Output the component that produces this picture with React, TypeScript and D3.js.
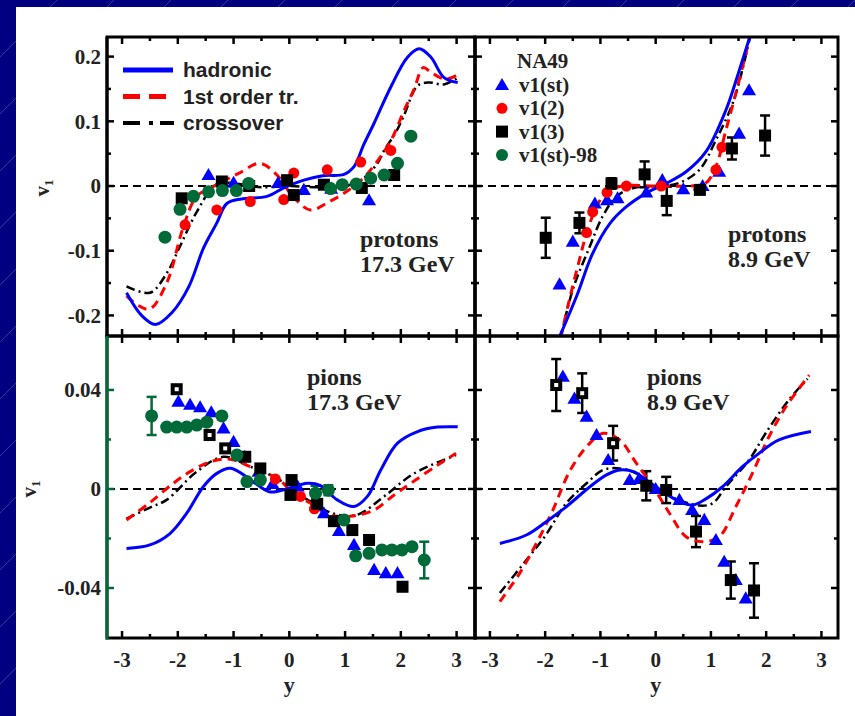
import React from 'react';
import * as d3 from 'd3';

type P = [number, number];
type E = [number, number, number];

// ---- protons 17.3 GeV ----
const p173Had: P[] = [[-2.92,-0.165],[-2.65,-0.2],[-2.4,-0.214],[-2.1,-0.195],[-1.8,-0.155],[-1.54,-0.096],[-1.3,-0.057],[-1.12,-0.027],[-0.86,-0.02],[-0.4,-0.016],[-0.1,-0.003],[0.26,0.009],[0.6,0.016],[0.98,0.018],[1.16,0.03],[1.34,0.065],[1.52,0.097],[1.82,0.153],[2.12,0.199],[2.33,0.212],[2.54,0.199],[2.77,0.168],[3.02,0.16]];
const p173First: P[] = [[-2.92,-0.17],[-2.7,-0.185],[-2.5,-0.19],[-2.2,-0.15],[-1.9,-0.063],[-1.66,-0.016],[-1.3,0.002],[-0.9,0.02],[-0.52,0.035],[-0.2,0.015],[0.05,-0.015],[0.38,-0.037],[0.7,-0.025],[1.0,-0.01],[1.3,0.01],[1.55,0.035],[1.82,0.07],[2.06,0.117],[2.24,0.15],[2.4,0.183],[2.55,0.175],[2.8,0.165],[3.02,0.172]];
const p173Cross: P[] = [[-2.92,-0.155],[-2.5,-0.165],[-2.2,-0.135],[-1.96,-0.093],[-1.66,-0.04],[-1.3,0.003],[-0.9,0.003],[-0.5,-0.002],[0,0],[0.5,-0.002],[1.0,0.0],[1.3,0.01],[1.58,0.035],[1.7,0.055],[1.91,0.083],[2.06,0.11],[2.3,0.155],[2.5,0.16],[2.77,0.157],[3.02,0.167]];
const p173St: P[] = [[-1.45,0.017],[-1.0,0.005],[-0.2,0.005],[0.26,-0.006],[0.75,-0.004],[1.43,-0.022]];
const p173V2: P[] = [[-1.87,-0.06],[-1.3,-0.037],[-0.7,-0.024],[-0.1,-0.021],[0.08,0.02],[0.68,0.025],[1.28,0.037],[1.82,0.055]];
const p173V3: E[] = [[-1.93,-0.019,0],[-1.21,0.007,0],[-0.72,0.0,0],[-0.04,0.009,0],[0.08,-0.014,0],[0.62,0.002,0],[1.3,-0.003,0],[1.88,0.017,0]];
const p17398: E[] = [[-2.23,-0.079,0],[-1.96,-0.036,0],[-1.72,-0.016,0],[-1.45,-0.009,0],[-1.2,-0.007,0],[-0.95,-0.007,0],[-0.73,0.004,0],[0.74,-0.004,0],[0.95,0.002,0],[1.2,0.003,0],[1.46,0.012,0],[1.7,0.017,0],[1.94,0.035,0],[2.18,0.077,0]];

// ---- protons 8.9 GeV ----
const p89Had: P[] = [[-1.75,-0.235],[-1.43,-0.17],[-1.14,-0.104],[-0.83,-0.058],[-0.53,-0.032],[-0.17,-0.011],[0.19,0.004],[0.55,0.022],[0.91,0.053],[1.27,0.117],[1.51,0.178],[1.72,0.235]];
const p89First: P[] = [[-1.72,-0.235],[-1.56,-0.175],[-1.38,-0.114],[-1.25,-0.073],[-1.07,-0.032],[-0.89,-0.009],[-0.6,0.0],[0,0],[0.6,0.0],[0.9,0.004],[1.09,0.03],[1.27,0.086],[1.45,0.143],[1.63,0.204],[1.72,0.235]];
const p89Cross: P[] = [[-1.72,-0.235],[-1.5,-0.16],[-1.2,-0.095],[-0.96,-0.047],[-0.71,-0.016],[-0.4,-0.003],[0,0],[0.4,0.004],[0.79,0.025],[1.09,0.071],[1.39,0.127],[1.57,0.18],[1.72,0.235]];
const p89St: P[] = [[-1.74,-0.152],[-1.5,-0.086],[-1.1,-0.027],[-0.88,-0.022],[-0.69,-0.019],[-0.17,-0.01],[0.12,0.009],[0.5,-0.005],[0.85,0.0],[1.15,0.022],[1.51,0.081],[1.69,0.148]];
const p89V2: P[] = [[-1.25,-0.072],[-1.14,-0.04],[-0.88,-0.01],[-0.53,0.0],[0.1,0.0],[0.78,-0.005],[1.09,0.025],[1.2,0.06]];
const p89V3: E[] = [[-1.99,-0.08,0.031],[-1.38,-0.057,0.016],[-0.8,0.004,0.008],[-0.2,0.018,0.02],[0.2,-0.023,0.022],[0.8,-0.006,0.006],[1.38,0.058,0.017],[1.98,0.078,0.031]];

// ---- pions 17.3 GeV ----
const pi173Had: P[] = [[-2.92,-0.024],[-2.5,-0.0226],[-2.14,-0.018],[-1.84,-0.0098],[-1.54,0.001],[-1.3,0.0063],[-1.06,0.0084],[-0.82,0.0057],[-0.55,0.0013],[-0.34,-0.0012],[-0.05,0.0],[0.32,0.0023],[0.55,0.0015],[0.86,-0.0044],[1.16,-0.0071],[1.4,-0.003],[1.64,0.0077],[1.94,0.0185],[2.3,0.0232],[2.66,0.025],[3.02,0.0251]];
const pi173First: P[] = [[-2.92,-0.0125],[-2.5,-0.0055],[-2.08,0.0023],[-1.78,0.007],[-1.42,0.011],[-1.06,0.012],[-0.7,0.009],[-0.2,0.004],[0.02,-0.0005],[0.38,-0.0058],[0.74,-0.0105],[1.1,-0.011],[1.52,-0.0085],[1.88,-0.0024],[2.18,0.0023],[2.66,0.0097],[2.99,0.0144]];
const pi173Cross: P[] = [[-2.92,-0.012],[-2.5,-0.0075],[-2.2,-0.0044],[-1.66,0.007],[-1.18,0.013],[-0.7,0.009],[-0.2,0.004],[0.3,-0.004],[0.8,-0.01],[1.22,-0.0104],[1.7,-0.003],[2.24,0.0063],[2.99,0.0137]];
const pi173St: P[] = [[-1.99,0.0353],[-1.78,0.034],[-1.6,0.033],[-1.4,0.031],[-1.18,0.0245],[-1.0,0.019],[-0.8,0.013],[-0.55,0.007],[-0.3,0.002],[0.15,0.001],[0.5,-0.007],[0.62,-0.0098],[0.89,-0.017],[1.16,-0.0226],[1.52,-0.0327],[1.73,-0.034],[1.94,-0.034]];
const pi173V2: P[] = [[-0.25,0.004],[0.2,-0.003],[0.45,-0.008]];
const pi173V3: E[] = [[-0.79,0.013,0],[-0.52,0.0083,0],[0.04,0.0036,0],[0.02,-0.0024,0],[0.5,-0.006,0],[0.8,-0.013,0],[1.13,-0.0166,0],[1.43,-0.0206,0],[2.03,-0.0395,0]];
const pi173V3Open: E[] = [[-2.02,0.0403,0],[-1.43,0.0218,0],[-1.15,0.0164,0]];
const pi17398: E[] = [[-2.47,0.0295,0.0077],[-2.2,0.025,0],[-2.02,0.025,0],[-1.84,0.025,0],[-1.66,0.0258,0],[-1.48,0.027,0],[-1.21,0.0295,0],[-0.94,0.0137,0],[-0.76,0.003,0],[-0.52,0.0036,0],[0.47,-0.0017,0.003],[0.7,-0.0005,0.002],[0.98,-0.0125,0],[1.19,-0.027,0],[1.43,-0.026,0],[1.66,-0.0246,0],[1.84,-0.0246,0],[2.02,-0.0246,0],[2.2,-0.0233,0],[2.42,-0.0287,0.0074]];

// ---- pions 8.9 GeV ----
const pi89Had: P[] = [[-2.82,-0.022],[-2.34,-0.0186],[-1.98,-0.0132],[-1.62,-0.0072],[-1.19,0.0009],[-0.89,0.0057],[-0.65,0.0077],[-0.4,0.007],[-0.17,0.0036],[0.13,-0.0011],[0.43,-0.0051],[0.67,-0.0065],[0.91,-0.004],[1.21,0.0009],[1.57,0.009],[1.87,0.0144],[2.23,0.0198],[2.81,0.0232]];
const pi89First: P[] = [[-2.82,-0.0455],[-2.46,-0.034],[-2.16,-0.022],[-1.86,-0.0085],[-1.56,0.007],[-1.25,0.0171],[-0.95,0.0225],[-0.65,0.0198],[-0.35,0.0104],[-0.05,0.001],[0.25,-0.0098],[0.55,-0.0193],[0.85,-0.0213],[1.15,-0.0193],[1.45,-0.0072],[1.75,0.0063],[2.05,0.0211],[2.36,0.0333],[2.78,0.046]];
const pi89Cross: P[] = [[-2.82,-0.042],[-2.34,-0.0287],[-2.0,-0.019],[-1.62,-0.0058],[-1.25,0.0023],[-0.95,0.0077],[-0.65,0.0083],[-0.35,0.0063],[-0.05,0.001],[0.37,-0.004],[0.79,-0.0067],[1.03,-0.0058],[1.27,0.0009],[1.69,0.0117],[1.99,0.0225],[2.41,0.036],[2.75,0.0445]];
const pi89St: P[] = [[-1.68,0.0454],[-1.47,0.0365],[-1.25,0.0292],[-1.07,0.0218],[-0.86,0.0117],[-0.47,0.0036],[-0.3,0.004],[0.0,0.0],[0.43,-0.0044],[0.66,-0.0085],[0.88,-0.0125],[1.09,-0.0206],[1.24,-0.0294],[1.45,-0.0368],[1.63,-0.0442]];
const pi89V3: E[] = [[-0.17,0.0013,0.0059],[0.19,-0.0004,0.0053],[0.73,-0.0172,0.0063],[1.36,-0.0368,0.0075],[1.78,-0.041,0.011]];
const pi89V3Open: E[] = [[-1.8,0.042,0.0105],[-1.33,0.0387,0.008],[-0.77,0.0185,0.007]];

// axis ticks / labels
const xMajor = [-3, -2, -1, 0, 1, 2, 3];
const xMinor = [-2.5, -1.5, -0.5, 0.5, 1.5, 2.5];
const protonMajor = [-0.2, -0.1, 0, 0.1, 0.2];
const protonMinor = [-0.15, -0.05, 0.05, 0.15];
const pionMajor = [-0.04, 0, 0.04];
const pionMinor = [-0.02, 0.02];
const modelNames = ['hadronic', '1st order tr.', 'crossover'];
const dataNames = ['v1(st)', 'v1(2)', 'v1(3)', 'v1(st)-98'];

const BLUE = '#0000ff';
const RED = '#ff0000';
const GREEN = '#006a38';
const SERIF = '"Liberation Serif", "DejaVu Serif", serif';
const SANS = '"Liberation Sans", Arial, sans-serif';

interface Panel {
  id: string;
  x0: number; x1: number; y0: number; y1: number;
  xDom: [number, number]; yDom: [number, number];
  yMajor: number[]; yMinor: number[];
  yLabels: boolean; xLabels: boolean;
  had: P[]; first: P[]; cross: P[];
  st: P[]; v2: P[]; v3: E[]; v3Open: E[]; s98: E[];
  label: string[]; lx: number; ly: number;
  vLabel?: [number, number];
}

const panels: Panel[] = [
  { id: 'a', x0: 107, x1: 475, y0: 37, y1: 336, xDom: [-3.27, 3.33], yDom: [-0.2318, 0.2303],
    yMajor: protonMajor, yMinor: protonMinor, yLabels: true, xLabels: false,
    had: p173Had, first: p173First, cross: p173Cross, st: p173St, v2: p173V2, v3: p173V3, v3Open: [], s98: p17398,
    label: ['protons', '17.3 GeV'], lx: 360, ly: 247, vLabel: [49, 188] },
  { id: 'b', x0: 475, x1: 838, y0: 37, y1: 336, xDom: [-3.27, 3.3], yDom: [-0.2318, 0.2303],
    yMajor: protonMajor, yMinor: protonMinor, yLabels: false, xLabels: false,
    had: p89Had, first: p89First, cross: p89Cross, st: p89St, v2: p89V2, v3: p89V3, v3Open: [], s98: [],
    label: ['protons', '8.9 GeV'], lx: 728, ly: 242 },
  { id: 'c', x0: 107, x1: 475, y0: 336, y1: 638, xDom: [-3.27, 3.33], yDom: [-0.0602, 0.0618],
    yMajor: pionMajor, yMinor: pionMinor, yLabels: true, xLabels: true,
    had: pi173Had, first: pi173First, cross: pi173Cross, st: pi173St, v2: pi173V2, v3: pi173V3, v3Open: pi173V3Open, s98: pi17398,
    label: ['pions', '17.3 GeV'], lx: 307, ly: 385, vLabel: [36, 489] },
  { id: 'd', x0: 475, x1: 838, y0: 336, y1: 638, xDom: [-3.27, 3.3], yDom: [-0.0602, 0.0618],
    yMajor: pionMajor, yMinor: pionMinor, yLabels: false, xLabels: true,
    had: pi89Had, first: pi89First, cross: pi89Cross, st: pi89St, v2: [], v3: pi89V3, v3Open: pi89V3Open, s98: [],
    label: ['pions', '8.9 GeV'], lx: 647, ly: 385 },
];

const triPath = d3.symbol().type(d3.symbolTriangle).size(85)() as string;
const fmt = (v: number) => (v === 0 ? '0' : String(v));

function PanelView({ p }: { p: Panel }) {
  const xs = d3.scaleLinear().domain(p.xDom).range([p.x0, p.x1]);
  const ys = d3.scaleLinear().domain(p.yDom).range([p.y1, p.y0]);
  const line = d3.line<P>().x(d => xs(d[0])).y(d => ys(d[1])).curve(d3.curveCatmullRom.alpha(0.5));
  const leftColor = p.id === 'c' ? GREEN : '#000';

  const errBar = (d: E, color: string, k: string) =>
    d[2] > 0 ? (
      <g key={k} stroke={color} strokeWidth={2.5}>
        <line x1={xs(d[0])} x2={xs(d[0])} y1={ys(d[1] - d[2])} y2={ys(d[1] + d[2])} />
        <line x1={xs(d[0]) - 5} x2={xs(d[0]) + 5} y1={ys(d[1] - d[2])} y2={ys(d[1] - d[2])} />
        <line x1={xs(d[0]) - 5} x2={xs(d[0]) + 5} y1={ys(d[1] + d[2])} y2={ys(d[1] + d[2])} />
      </g>
    ) : null;

  return (
    <g>
      <clipPath id={'clip-' + p.id}>
        <rect x={p.x0} y={p.y0} width={p.x1 - p.x0} height={p.y1 - p.y0} />
      </clipPath>
      <line x1={p.x0} x2={p.x1} y1={ys(0)} y2={ys(0)} stroke="#000" strokeWidth={2} strokeDasharray="8,5" />
      <g clipPath={`url(#clip-${p.id})`}>
        {p.s98.map((d, i) => errBar(d, GREEN, 'ge' + i))}
        {p.v3.map((d, i) => errBar(d, '#000', 've' + i))}
        {p.v3Open.map((d, i) => errBar(d, '#000', 'oe' + i))}
        <path d={line(p.cross) || ''} fill="none" stroke="#000" strokeWidth={2.5} strokeDasharray="9,4,2,4" />
        <path d={line(p.first) || ''} fill="none" stroke={RED} strokeWidth={3} strokeDasharray="9,6" />
        <path d={line(p.had) || ''} fill="none" stroke={BLUE} strokeWidth={3} />
        {p.st.map((d, i) => (
          <path key={'t' + i} d={triPath} transform={`translate(${xs(d[0])},${ys(d[1]) + 1})`} fill={BLUE} />
        ))}
        {p.v2.map((d, i) => (
          <circle key={'r' + i} cx={xs(d[0])} cy={ys(d[1])} r={5.5} fill={RED} />
        ))}
        {p.v3.map((d, i) => (
          <rect key={'s' + i} x={xs(d[0]) - 6} y={ys(d[1]) - 6} width={12} height={12} fill="#000" />
        ))}
        {p.v3Open.map((d, i) => (
          <rect key={'o' + i} x={xs(d[0]) - 4} y={ys(d[1]) - 4} width={8} height={8} fill="#fff" stroke="#000" strokeWidth={4} />
        ))}
        {p.s98.map((d, i) => (
          <circle key={'g' + i} cx={xs(d[0])} cy={ys(d[1])} r={6.5} fill={GREEN} />
        ))}
      </g>
      {/* frame */}
      <rect x={p.x0} y={p.y0} width={p.x1 - p.x0} height={p.y1 - p.y0} fill="none" stroke="#000" strokeWidth={3} />
      <line x1={p.x0} x2={p.x0} y1={p.y0} y2={p.y1 + 1.5} stroke={leftColor} strokeWidth={3} />
      {/* x ticks */}
      {xMajor.concat(xMinor).map((t, i) => {
        const len = xMajor.includes(t) ? 7 : 4;
        return (
          <g key={'xt' + i} stroke="#000" strokeWidth={2.5}>
            <line x1={xs(t)} x2={xs(t)} y1={p.y1} y2={p.y1 - len} />
            <line x1={xs(t)} x2={xs(t)} y1={p.y0} y2={p.y0 + len} />
          </g>
        );
      })}
      {/* y ticks */}
      {p.yMajor.concat(p.yMinor).map((t, i) => {
        const len = p.yMajor.includes(t) ? 7 : 4;
        return (
          <g key={'yt' + i} strokeWidth={2.5}>
            <line x1={p.x0} x2={p.x0 + len} y1={ys(t)} y2={ys(t)} stroke={leftColor} />
            <line x1={p.x1} x2={p.x1 - len} y1={ys(t)} y2={ys(t)} stroke="#000" />
          </g>
        );
      })}
      {p.yLabels && p.yMajor.map((t, i) => (
        <text key={'yl' + i} x={101} y={ys(t)} dy="0.35em" textAnchor="end" fontFamily={SERIF} fontWeight="bold" fontSize={21} fill="#222">
          {fmt(t)}
        </text>
      ))}
      {p.xLabels && xMajor.map((t, i) => (
        <text key={'xl' + i} x={xs(t)} y={667} textAnchor="middle" fontFamily={SERIF} fontWeight="bold" fontSize={21} fill="#222">
          {fmt(t)}
        </text>
      ))}
      {p.xLabels && (
        <text x={xs(0)} y={692} textAnchor="middle" fontFamily={SERIF} fontWeight="bold" fontSize={22} fill="#222">y</text>
      )}
      {p.vLabel && (
        <text transform={`translate(${p.vLabel[0]},${p.vLabel[1]}) rotate(-90)`} textAnchor="middle" fontFamily={SERIF} fontWeight="bold" fontSize={21} fill="#222">
          v<tspan fontSize={13} dy={4}>1</tspan>
        </text>
      )}
      <text fontFamily={SERIF} fontWeight="bold" fontSize={24} fill="#222">
        <tspan x={p.lx} y={p.ly}>{p.label[0]}</tspan>
        <tspan x={p.lx} y={p.ly + 25}>{p.label[1]}</tspan>
      </text>
    </g>
  );
}

export default function App() {
  const modelRows = [
    { stroke: BLUE, dash: undefined, w: 5, x2: 173 },
    { stroke: RED, dash: '17,9', w: 5, x2: 166 },
    { stroke: '#000', dash: '17,9,4,7,14', w: 4, x2: 174 },
  ];
  return (
    <svg width={855} height={716} style={{ position: 'absolute', left: 0, top: 0 }}>
      <defs>
        <pattern id="diag" width={57} height={57} patternUnits="userSpaceOnUse">
          <line x1={0} y1={57} x2={57} y2={0} stroke="#5a5ab8" strokeWidth={1} opacity={0.6} />
        </pattern>
      </defs>
      <rect width={855} height={716} fill="#000080" />
      <rect width={855} height={716} fill="url(#diag)" />
      <rect x={16} y={7} width={839} height={709} fill="#fff" />

      {panels.map(p => <PanelView key={p.id} p={p} />)}

      {/* model legend */}
      {modelNames.map((n, i) => {
        const y = 70 + i * 26.5;
        const r = modelRows[i];
        return (
          <g key={n}>
            <line x1={123} x2={r.x2} y1={y} y2={y} stroke={r.stroke} strokeWidth={r.w} strokeDasharray={r.dash} />
            <text x={183} y={y + 7} fontFamily={SANS} fontWeight="bold" fontSize={21} fill="#222">{n}</text>
          </g>
        );
      })}

      {/* data legend */}
      <text x={517} y={68} fontFamily={SERIF} fontWeight="bold" fontSize={21} fill="#222">NA49</text>
      {dataNames.map((n, i) => {
        const y = 85 + i * 23.3;
        let mk: React.ReactNode;
        if (i === 0) mk = <path d={triPath} transform={`translate(502,${y + 1})`} fill={BLUE} />;
        else if (i === 1) mk = <circle cx={502} cy={y} r={5.5} fill={RED} />;
        else if (i === 2) mk = <rect x={496} y={y - 6} width={12} height={12} fill="#000" />;
        else mk = <circle cx={502} cy={y} r={6} fill={GREEN} />;
        return (
          <g key={n}>
            {mk}
            <text x={519} y={y + 7} fontFamily={SERIF} fontWeight="bold" fontSize={21} fill="#222">{n}</text>
          </g>
        );
      })}
    </svg>
  );
}
